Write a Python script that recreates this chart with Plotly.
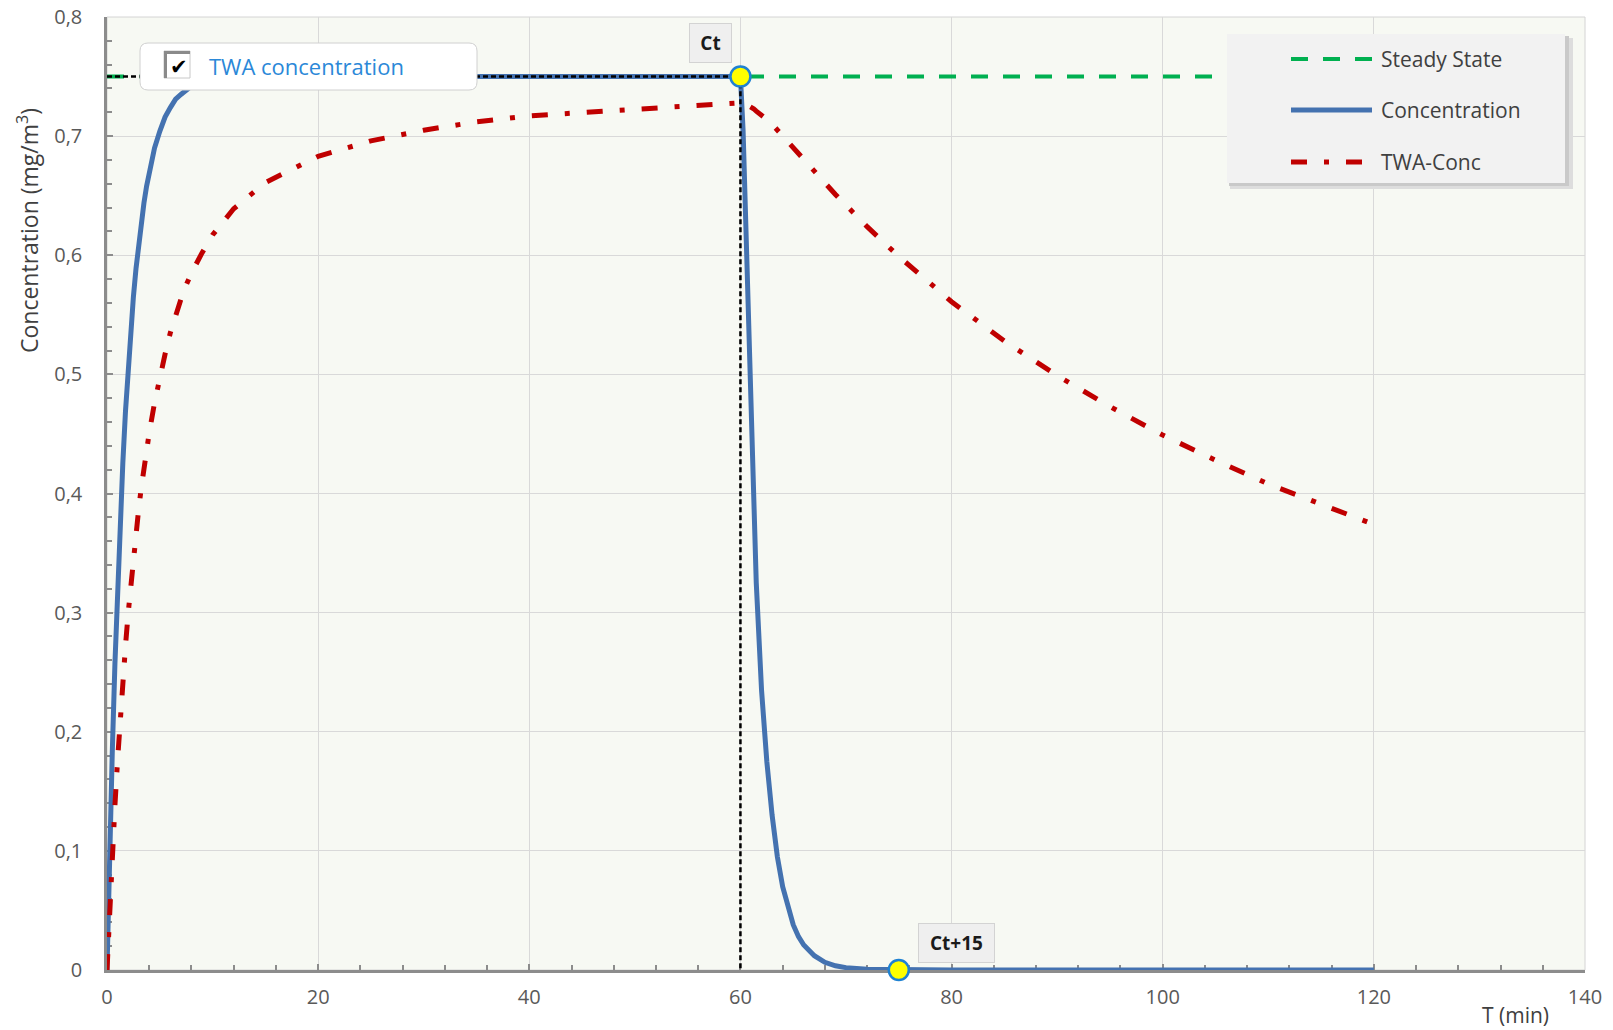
import plotly.graph_objects as go

# ---------------- data ----------------
time_min = [0, 0.1, 0.2, 0.3, 0.4, 0.5, 0.75, 1, 1.25, 1.5, 1.75, 2, 2.25, 2.5, 2.75, 3, 3.25, 3.5,
            3.75, 4, 4.5, 5, 5.5, 6, 6.5, 7, 7.5, 8, 9, 10, 12, 15, 20, 25, 30, 35, 40, 45, 50,
            55, 58, 60,
            60.25, 60.5, 60.75, 61, 61.25, 61.5, 62, 62.5, 63, 63.5, 64, 64.5, 65, 65.5, 66, 67,
            68, 69, 70, 72, 75, 80, 85, 90, 95, 100, 105, 110, 115, 120]

concentration = [0, 0.041, 0.080, 0.116, 0.151, 0.183, 0.257, 0.322, 0.378, 0.426, 0.469, 0.505,
                 0.537, 0.565, 0.589, 0.610, 0.628, 0.644, 0.658, 0.670, 0.690, 0.704, 0.716,
                 0.724, 0.731, 0.735, 0.739, 0.742, 0.745, 0.747, 0.749, 0.750, 0.75, 0.75, 0.75,
                 0.75, 0.75, 0.75, 0.75, 0.75, 0.75, 0.75,
                 0.705, 0.625, 0.535, 0.455, 0.390, 0.325, 0.235, 0.175, 0.130, 0.095, 0.070,
                 0.052, 0.038, 0.028, 0.021, 0.012, 0.0065, 0.0035, 0.002, 0.0006, 0.0001,
                 0, 0, 0, 0, 0, 0, 0, 0, 0]

twa_conc = [0, 0.021, 0.041, 0.060, 0.078, 0.096, 0.138, 0.176, 0.211, 0.243, 0.272, 0.299,
            0.323, 0.346, 0.367, 0.387, 0.405, 0.421, 0.437, 0.451, 0.476, 0.498, 0.517, 0.535,
            0.550, 0.563, 0.575, 0.585, 0.602, 0.617, 0.639, 0.661, 0.683, 0.696, 0.705, 0.712,
            0.717, 0.720, 0.723, 0.726, 0.727, 0.728,
            0.728, 0.727, 0.726, 0.725, 0.723, 0.721, 0.718, 0.714, 0.710, 0.705, 0.700,
            0.695, 0.690, 0.685, 0.680, 0.670, 0.660, 0.651, 0.642, 0.624, 0.599, 0.561, 0.528,
            0.499, 0.473, 0.449, 0.428, 0.408, 0.391, 0.374]

steady_time = [0, 120]
steady_value = [0.75, 0.75]

ct_time = 60
ct_value = 0.75
ct15_time = 75
ct15_value = 0

x_tick_vals = [0, 20, 40, 60, 80, 100, 120, 140]
x_tick_text = ["0", "20", "40", "60", "80", "100", "120", "140"]
y_tick_vals = [0, 0.1, 0.2, 0.3, 0.4, 0.5, 0.6, 0.7, 0.8]
y_tick_text = ["0", "0,1", "0,2", "0,3", "0,4", "0,5", "0,6", "0,7", "0,8"]

# ---------------- styling / layout helpers ----------------
FIG_W, FIG_H = 1613, 1030
L, R, T, B = 107, 1585, 17, 970
PW, PH = R - L, B - T
FONT = "Open Sans"
BLUE = "#4472B0"
RED = "#C00000"
GREEN = "#00B050"
TXT = "#404040"


def px(x):
    return (x - L) / PW


def py(y):
    return (B - y) / PH


fig = go.Figure()

fig.add_trace(go.Scatter(x=steady_time, y=steady_value, mode="lines", name="Steady State",
                         line=dict(color=GREEN, width=4, dash="17px,15px"), hoverinfo="skip"))
fig.add_trace(go.Scatter(x=time_min, y=concentration, mode="lines", name="Concentration",
                         line=dict(color=BLUE, width=5)))
fig.add_trace(go.Scatter(x=time_min, y=twa_conc, mode="lines", name="TWA-Conc",
                         line=dict(color=RED, width=5, dash="16px,17px,5px,17px")))
fig.add_trace(go.Scatter(x=[0, ct_time, ct_time], y=[ct_value, ct_value, 0], mode="lines",
                         line=dict(color="black", width=2.5, dash="5px,3px"),
                         showlegend=False, hoverinfo="skip"))
fig.add_trace(go.Scatter(x=[ct_time, ct15_time], y=[ct_value, ct15_value], mode="markers",
                         marker=dict(size=20, color="#FFFF00", line=dict(color="#1F82D2", width=2.5)),
                         showlegend=False, cliponaxis=False))

shapes = []
# plot area border
shapes.append(dict(type="rect", xref="paper", yref="paper", layer="below",
                   x0=0, x1=1, y0=0, y1=1, line=dict(color="#D4D4D4", width=1)))

# legend box with shadow
shapes.append(dict(type="rect", xref="paper", yref="paper", x0=px(1230), x1=px(1573), y0=py(189), y1=py(38),
                   fillcolor="#DDDDDD", line=dict(width=0)))
shapes.append(dict(type="rect", xref="paper", yref="paper", x0=px(1229), x1=px(1569), y0=py(186), y1=py(36),
                   fillcolor="#C9C9C9", line=dict(width=0)))
shapes.append(dict(type="rect", xref="paper", yref="paper", x0=px(1227), x1=px(1565), y0=py(183), y1=py(34),
                   fillcolor="#F2F2F2", line=dict(width=0)))
legend_items = [("Steady State", GREEN, 4, "17px,15px", 59),
                ("Concentration", BLUE, 5, "solid", 110),
                ("TWA-Conc", RED, 5, "16px,17px,5px,17px", 162)]
annotations = []
for name, col, w, dash, yy in legend_items:
    shapes.append(dict(type="line", xref="paper", yref="paper", x0=px(1291), x1=px(1372),
                       y0=py(yy), y1=py(yy), line=dict(color=col, width=w, dash=dash)))
    annotations.append(dict(xref="paper", yref="paper", x=px(1379), y=py(yy), text=name,
                            showarrow=False, xanchor="left", yanchor="middle",
                            font=dict(family=FONT, size=21, color=TXT)))

# "TWA concentration" rounded box with checkbox
bx0, bx1, by0, by1, br = 140, 477, 43, 90, 8
shapes.append(dict(type="path", xref="paper", yref="paper",
                   path=(f"M {px(bx0 + br)},{py(by0)} L {px(bx1 - br)},{py(by0)} "
                         f"Q {px(bx1)},{py(by0)} {px(bx1)},{py(by0 + br)} "
                         f"L {px(bx1)},{py(by1 - br)} Q {px(bx1)},{py(by1)} {px(bx1 - br)},{py(by1)} "
                         f"L {px(bx0 + br)},{py(by1)} Q {px(bx0)},{py(by1)} {px(bx0)},{py(by1 - br)} "
                         f"L {px(bx0)},{py(by0 + br)} Q {px(bx0)},{py(by0)} {px(bx0 + br)},{py(by0)} Z"),
                   fillcolor="white", line=dict(color="#D0D0D0", width=1)))
shapes.append(dict(type="rect", xref="paper", yref="paper", x0=px(164), x1=px(190), y0=py(78), y1=py(51),
                   fillcolor="white", line=dict(color="#C8C8C8", width=1)))
shapes.append(dict(type="path", xref="paper", yref="paper",
                   path=f"M {px(165.5)},{py(78)} L {px(165.5)},{py(52.5)} L {px(190)},{py(52.5)}",
                   line=dict(color="#8A8A8A", width=3)))
annotations.append(dict(xref="paper", yref="paper", x=px(179), y=py(67), text="<b>✔</b>", showarrow=False,
                        xanchor="center", yanchor="middle",
                        font=dict(family="DejaVu Sans", size=21, color="black")))
annotations.append(dict(xref="paper", yref="paper", x=px(207), y=py(66), text="TWA concentration",
                        showarrow=False, xanchor="left", yanchor="middle",
                        font=dict(family=FONT, size=22, color="#2B88D8")))

# Ct / Ct+15 labels
annotations.append(dict(x=ct_time, y=ct_value, text="<b>Ct</b>", showarrow=False,
                        xanchor="center", yanchor="middle", xshift=-30, yshift=34,
                        width=41, height=38, borderpad=0, bgcolor="#EFEFEF",
                        bordercolor="#D3D3D3", borderwidth=1,
                        font=dict(family=FONT, size=19, color="#1A1A1A")))
annotations.append(dict(x=ct15_time, y=ct15_value, text="<b>Ct+15</b>", showarrow=False,
                        xanchor="center", yanchor="middle", xshift=58, yshift=27,
                        width=75, height=38, borderpad=0, bgcolor="#EFEFEF",
                        bordercolor="#D3D3D3", borderwidth=1,
                        font=dict(family=FONT, size=19, color="#1A1A1A")))

# axis titles
annotations.append(dict(xref="paper", yref="paper", x=px(28), y=py(231),
                        text="Concentration (mg/m<sup>3</sup>)", textangle=-90, showarrow=False,
                        xanchor="center", yanchor="middle",
                        font=dict(family=FONT, size=23, color=TXT)))
annotations.append(dict(xref="paper", yref="paper", x=px(1515), y=py(1015), text="T (min)",
                        showarrow=False, xanchor="center", yanchor="middle",
                        font=dict(family=FONT, size=21, color=TXT)))

fig.update_layout(
    width=FIG_W, height=FIG_H,
    margin=dict(l=L, r=FIG_W - R, t=T, b=FIG_H - B, autoexpand=False),
    paper_bgcolor="white", plot_bgcolor="#F7F9F3",
    showlegend=False,
    font=dict(family=FONT, size=20, color="#595959"),
    shapes=shapes, annotations=annotations,
    xaxis=dict(range=[0, 140], tickvals=x_tick_vals, ticktext=x_tick_text, automargin=False,
               showgrid=True, gridcolor="#D9D9D9", gridwidth=1, zeroline=False,
               showline=True, linecolor="#8C8C8C", linewidth=2.5,
               ticks="inside", ticklen=6, tickwidth=2, tickcolor="#8C8C8C",
               ticklabelstandoff=7, layer="below traces",
               minor=dict(dtick=4, ticks="inside", ticklen=5, tickwidth=2, tickcolor="#8C8C8C",
                          showgrid=False),
               tickfont=dict(family=FONT, size=20, color="#595959")),
    yaxis=dict(range=[0, 0.8], tickvals=y_tick_vals, ticktext=y_tick_text, automargin=False,
               showgrid=True, gridcolor="#D9D9D9", gridwidth=1, zeroline=False,
               showline=True, linecolor="#8C8C8C", linewidth=2.5,
               ticks="inside", ticklen=6, tickwidth=2, tickcolor="#8C8C8C",
               ticklabelstandoff=18, layer="below traces",
               minor=dict(dtick=0.02, ticks="inside", ticklen=5, tickwidth=2, tickcolor="#8C8C8C",
                          showgrid=False),
               tickfont=dict(family=FONT, size=20, color="#595959")),
)

fig.write_html("out.html", config={"displayModeBar": False},
               post_script="document.body.style.margin='0';document.body.style.overflow='hidden';")
